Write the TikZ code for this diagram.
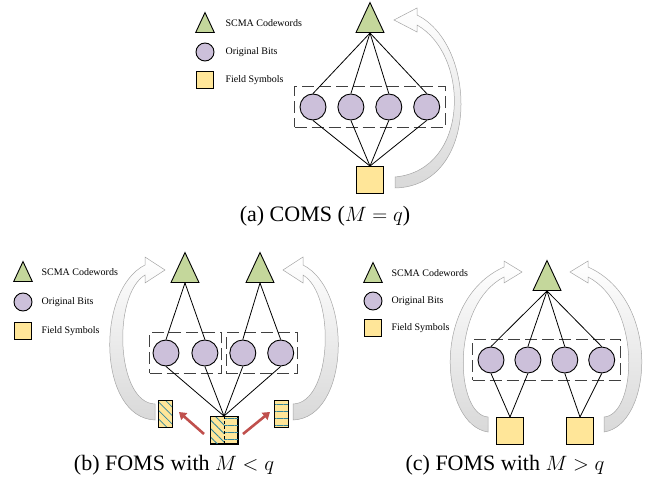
\documentclass[tikz,border=0pt]{standalone}
\usepackage{fontspec}
\setmainfont{Liberation Serif}
\usetikzlibrary{shapes.geometric,positioning,fit,arrows.meta,patterns.meta}

\definecolor{cwgreen}{HTML}{C4D79B}
\definecolor{bitpurple}{HTML}{CCC0DA}
\definecolor{symyellow}{HTML}{FFE699}
\definecolor{hatchblue}{HTML}{31859C}
\definecolor{splitred}{HTML}{C0504D}

\begin{document}
\begin{tikzpicture}
	[x=1pt,y=-1pt,
	cw/.style={isosceles triangle,isosceles triangle apex angle=50,shape border rotate=90,draw,line width=0.9pt,fill=cwgreen,inner sep=0pt,minimum height=30pt},
	cw small/.style={cw,minimum height=20pt},
	bit/.style={circle,draw,line width=0.9pt,fill=bitpurple,inner sep=0pt,minimum size=26pt},
	bit small/.style={bit,minimum size=18pt},
	sym/.style={rectangle,draw,line width=0.9pt,fill=symyellow,inner sep=0pt,minimum size=27pt},
	sym small/.style={sym,minimum size=17pt},
	sym half/.style={sym,minimum width=14pt,minimum height=27pt},
	hatchdiag/.style={pattern={Lines[angle=-45,distance=6pt,line width=0.8pt]},pattern color=hatchblue},
	hatchflat/.style={pattern={Lines[angle=0,distance=7pt,line width=0.8pt]},pattern color=hatchblue},
	group/.style={draw=black!75,line width=1pt,dash pattern=on 12pt off 5pt,inner xsep=5pt,inner ysep=7pt},
	edge/.style={draw,line width=0.8pt},
	split/.style={draw=splitred,line width=2.6pt,-{Triangle[length=7pt,width=9pt]}},
	bendarrow/.style={draw=gray!70,line width=0.5pt,top color=white,bottom color=gray!30},
	legend/.style={anchor=west,font=\fontsize{10}{12}\selectfont},
	caption/.style={font=\fontsize{22}{26}\selectfont},
	]
	\useasboundingbox (0,0) rectangle (651,481);

	% (a) COMS
	\node[cw small,anchor=south] (a-l1) at (205,33) {};
	\node[bit small] (a-l2) at (205,52) {};
	\node[sym small] (a-l3) at (205,80) {};
	\node[legend] (a-t1) at (222,23) {SCMA Codewords};
	\node[legend] (a-t2) at (222,52) {Original Bits};
	\node[legend] (a-t3) at (222,80) {Field Symbols};

	\node[cw,anchor=south] (a-cw) at (370,33) {};
	\node[bit] (a-b1) at (313,107) {};
	\node[bit,right=11pt of a-b1] (a-b2) {};
	\node[bit,right=11pt of a-b2] (a-b3) {};
	\node[bit,right=11pt of a-b3] (a-b4) {};
	\node[group,fit=(a-b1)(a-b4)] (a-g) {};
	\node[sym] (a-fs) at (370,180) {};
	\foreach \i in {1,...,4} {
		\draw[edge] (a-cw.south) -- (a-b\i.north);
		\draw[edge] (a-b\i.south) -- (a-fs.north);
	}
	\path[bendarrow] (395,188) .. controls (480,186) and (478,45) .. (417,15)
		-- (417,8) -- (394,20) -- (417,32) -- (417,25)
		.. controls (470,55) and (470,170) .. (395,177) -- cycle;
	\node[caption] (a-cap) at (325,216) {(a) COMS ($M=q$)};

	% (b) FOMS with M < q
	\node[cw small,anchor=south] (b-l1) at (23,282) {};
	\node[bit small] (b-l2) at (23,302) {};
	\node[sym small] (b-l3) at (23,331) {};
	\node[legend] (b-t1) at (38,272) {SCMA Codewords};
	\node[legend] (b-t2) at (38,302) {Original Bits};
	\node[legend] (b-t3) at (38,331) {Field Symbols};

	\node[cw,anchor=south] (b-cw1) at (185,283) {};
	\node[cw,anchor=south] (b-cw2) at (260,283) {};
	\node[bit] (b-b1) at (166,353) {};
	\node[bit,right=12pt of b-b1] (b-b2) {};
	\node[bit,right=11pt of b-b2] (b-b3) {};
	\node[bit,right=11pt of b-b3] (b-b4) {};
	\node[group,inner xsep=3pt,fit=(b-b1)(b-b2)] (b-g1) {};
	\node[group,inner xsep=3pt,fit=(b-b3)(b-b4)] (b-g2) {};
	\node[sym] (b-s) at (224,430) {};
	\path[hatchdiag] (b-s.north west) rectangle (b-s.south);
	\path[hatchflat] (b-s.north) rectangle (b-s.south east);
	\draw[densely dashed,line width=0.7pt] (b-s.north) -- (b-s.south);
	\draw[line width=0.9pt] (b-s.north west) rectangle (b-s.south east);
	\node[sym half,preaction={fill=symyellow},hatchdiag] (b-sl) at (165,414) {};
	\node[sym half,preaction={fill=symyellow},hatchflat] (b-sr) at (281,414) {};
	\draw[edge] (b-cw1.south) -- (b-b1.north);
	\draw[edge] (b-cw1.south) -- (b-b2.north);
	\draw[edge] (b-cw2.south) -- (b-b3.north);
	\draw[edge] (b-cw2.south) -- (b-b4.north);
	\foreach \i in {1,...,4}
		\draw[edge] (b-b\i.south) -- (b-s.north);
	\coordinate (b-a1) at (204,434);
	\coordinate (b-a2) at (179,412);
	\coordinate (b-a3) at (243,434);
	\coordinate (b-a4) at (270,412);
	\draw[split] (b-a1) -- (b-a2);
	\draw[split] (b-a3) -- (b-a4);
	\path[bendarrow] (155,420) .. controls (98,418) and (95,290) .. (145,265)
		-- (145,257) -- (165,270) -- (145,283) -- (145,275)
		.. controls (112,295) and (116,403) .. (155,404) -- cycle;
	\path[bendarrow] (293,420) .. controls (350,418) and (353,290) .. (303,265)
		-- (303,257) -- (283,270) -- (303,283) -- (303,275)
		.. controls (336,295) and (332,403) .. (293,404) -- cycle;
	\node[caption] (b-cap) at (174,465) {(b) FOMS with $M<q$};

	% (c) FOMS with M > q
	\node[cw small,anchor=south] (c-l1) at (373,283) {};
	\node[bit small] (c-l2) at (373,301) {};
	\node[sym small] (c-l3) at (373,328) {};
	\node[legend] (c-t1) at (388,273) {SCMA Codewords};
	\node[legend] (c-t2) at (388,301) {Original Bits};
	\node[legend] (c-t3) at (388,328) {Field Symbols};

	\node[cw,anchor=south] (c-cw) at (547,291) {};
	\node[bit] (c-b1) at (491,360) {};
	\node[bit,right=10pt of c-b1] (c-b2) {};
	\node[bit,right=10pt of c-b2] (c-b3) {};
	\node[bit,right=10pt of c-b3] (c-b4) {};
	\node[group,fit=(c-b1)(c-b4)] (c-g) {};
	\node[sym] (c-s1) at (510,431) {};
	\node[sym] (c-s2) at (580,431) {};
	\foreach \i in {1,...,4}
		\draw[edge] (c-cw.south) -- (c-b\i.north);
	\draw[edge] (c-b1.south) -- (c-s1.north);
	\draw[edge] (c-b2.south) -- (c-s1.north);
	\draw[edge] (c-b3.south) -- (c-s2.north);
	\draw[edge] (c-b4.south) -- (c-s2.north);
	\path[bendarrow] (488,432) .. controls (440,425) and (430,300) .. (504,267)
		-- (504,261) -- (522,272) -- (504,283) -- (504,277)
		.. controls (450,305) and (455,415) .. (488,417) -- cycle;
	\path[bendarrow] (604,432) .. controls (652,425) and (662,300) .. (588,267)
		-- (588,261) -- (570,272) -- (588,283) -- (588,277)
		.. controls (642,305) and (637,415) .. (604,417) -- cycle;
	\node[caption] (c-cap) at (505,465) {(c) FOMS with $M>q$};
\end{tikzpicture}
\end{document}
